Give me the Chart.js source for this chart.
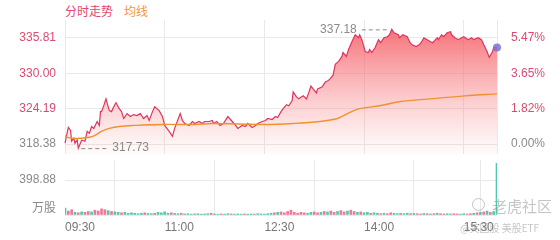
<!DOCTYPE html>
<html>
<head>
<meta charset="utf-8">
<script src="https://cdn.jsdelivr.net/npm/chart.js@4.4.1/dist/chart.umd.min.js"></script>
<style>
  body { margin: 0; background: #fff; width: 560px; height: 240px; overflow: hidden; position: relative; }
  #priceBox { position: absolute; left: 0; top: 0; width: 560px; height: 158px; }
  #volBox { position: absolute; left: 0; top: 158px; width: 560px; height: 82px; }
  .title { position: absolute; top: 2px; font: 12px "Noto Sans CJK SC", sans-serif; }
  .mark { position: absolute; color: rgba(150, 150, 150, 0.55); font-family: "Noto Sans CJK SC", sans-serif; }
</style>
</head>
<body>
<span class="title" style="left:65px;color:#e0476f">分时走势</span>
<span class="title" style="left:124px;color:#ef9a35">均线</span>
<div id="priceBox"><canvas id="priceChart"></canvas></div>
<div id="volBox"><canvas id="volChart"></canvas></div>
<span class="mark" style="left:492px;top:195px;font-size:15px">老虎社区</span>
<span class="mark" style="left:472px;top:198px;width:11px;height:11px;border:1.5px solid rgba(150,150,150,0.55);border-radius:50%"></span>
<span class="mark" style="left:460px;top:220px;font-size:10px">@美国股 美股ETF</span>
<script>
// minutes after 09:30
const priceTimes = [0,3,5,6,8,9,11,12,15,18,20,22,24,26,29,31,32,33,35,37,
  40,42,44,46,49,51,53,56,59,62,65,68,71,74,76,79,81,85,88,90,
  94,97,99,103,104,106,108,112,115,117,121,124,126,130,133,134,137,140,143,147,
  151,154,156,160,163,165,169,172,174,178,181,183,187,190,192,195,197,200,202,205,
  206,209,211,215,218,220,222,224,227,228,232,235,237,239,242,244,247,250,251,254,
  256,259,262,265,266,268,271,274,275,277,280,283,285,288,291,293,295,297,301,302,
  305,309,311,313,317,320,322,324,327,330,332,336,337,340,342,345,348,349,352,355,
  358,360,364,367,369,373,376,378,381,383,386,387,390];
const prices = [318.54,321.12,320.64,318.86,319.35,318.54,319.07,317.73,319.02,318.86,
  320.48,320.16,321.28,320.96,322.09,321.45,323.71,323.71,324.67,325.80,
  323.87,323.71,324.51,325.16,324.19,323.71,322.58,323.38,322.90,323.22,
  323.06,323.38,322.58,323.06,322.25,323.71,324.51,323.87,322.90,321.45,
  320.48,319.67,320.96,322.90,323.38,322.25,321.77,321.45,322.09,321.77,
  322.09,321.77,322.09,322.09,322.25,321.77,322.09,321.45,321.77,322.90,
  322.09,321.45,320.96,321.45,321.28,321.77,321.12,321.45,321.77,322.09,
  322.25,322.58,322.41,322.90,322.74,323.71,324.19,324.84,324.67,325.48,
  326.93,326.13,325.80,326.29,325.80,326.77,327.90,327.42,326.77,327.42,
  327.74,328.55,328.71,329.03,329.68,331.45,331.94,332.74,333.39,332.74,
  333.87,335.16,336.29,335.81,336.29,335.49,333.55,333.39,333.87,333.39,
  334.20,335.49,335.00,335.81,335.97,336.29,337.18,336.62,336.29,335.81,
  336.29,335.97,335.16,334.68,334.36,334.68,335.16,335.81,335.49,335.16,
  335.00,335.81,335.49,336.29,335.97,336.62,336.78,336.29,335.81,335.49,
  335.81,335.97,335.49,335.81,335.49,335.81,335.49,334.68,333.55,332.58,
  333.55,334.20,334.20];

const avgTimes = [0,6,15,22,27,33,40,49,63,88,117,133,181,206,230,246,255,266,284,302,330,361,390];
const avgPrices = [319.67,319.35,319.35,319.51,319.83,320.48,320.96,321.28,321.45,321.61,
  321.61,321.77,321.61,321.77,322.09,322.58,323.38,324.19,324.67,325.32,325.80,326.29,326.61];

// volume (万股), one bar every 3 minutes; u = up (red), d = down (teal)
const volumes = [80,45,60, 30,25,35,30,40,35, 55,45,70,60,50,40, 35,30,25,30,20,25,
  20,15,20,25,18,15,20, 30,25,35,20,25,18,15,20,
  12,15,10,12,15,10,12,15,20,12, 10,12,10,15,12,10,12,10,12,10,
  12,10,15,12,10,15,20,25,30,35, 25,40,55,30,20,30,25,20,30,35,
  25,30,40,35,45,30,40,50,35,45, 55,40,30,35,25,30,20,25,20,15,
  20,15,25,20,15,18,15,20,15,18, 15,12,18,15,12,15,20,15,12,15,
  12,15,12,10,15,12,15,20,25,30, 35,45,30,40, 590];
const volumeSide = "duu" + "duduud" + "uuuudu" + "ddudddd" + "dduddudd" + "dduddudddu" +
  "ddddudduddu" + "dddduddudd".slice(1) + "ddduduuuuu" + "uuudduudud" + "uuduuduudu" +
  "ddudduduud" + "dudduduudu" + "duduudduud" + "duudududud" + "dddu" + "d";

const prevClose = 318.38;
const priceTicks = [318.38, 324.19, 330.00, 335.81];
const timeLabels = ["09:30", "11:00", "12:30", "14:00", "15:30"];
const timeTicks = [0, 90, 180, 270, 360, 390];
const volumeTicks = [0, 398.88];

const gridColor = "#e9e9e9";
const redText = "#dc4a70";
const greyText = "#8a8a8a";
const numFont = { family: "'Liberation Sans', Arial, sans-serif", size: 12 };

// fixed-width side axes, no extra label padding above/below the plot
const fixWidth = (w) => (s) => {
  s.width = w;
  s.paddingTop = 0;
  s.paddingBottom = 0;
};

const xScale = (showLabels, height) => ({
  type: "linear",
  min: 0,
  max: 390,
  offset: false,
  afterBuildTicks: (s) => { s.ticks = timeTicks.map((v) => ({ value: v })); },
  afterFit: (s) => { s.height = height; s.paddingLeft = 0; s.paddingRight = 0; },
  grid: { color: gridColor, drawTicks: false },
  border: { display: false },
  ticks: {
    display: showLabels,
    autoSkip: false,
    maxRotation: 0,
    align: "start",
    padding: 5,
    color: "#777",
    font: numFont,
    callback: (v) => timeLabels[v / 90] || "",
  },
});

// max / min markers with dashed leaders
const markers = {
  id: "markers",
  afterDatasetsDraw(chart) {
    const { ctx, scales } = chart;
    let hi = 0, lo = 0;
    prices.forEach((p, i) => {
      if (p > prices[hi]) hi = i;
      if (p < prices[lo]) lo = i;
    });
    ctx.save();
    ctx.font = "12px 'Liberation Sans', Arial, sans-serif";
    ctx.fillStyle = greyText;
    ctx.strokeStyle = "#8a8a8a";
    ctx.setLineDash([4, 3]);
    ctx.lineWidth = 1;
    ctx.textBaseline = "middle";

    const hx = scales.x.getPixelForValue(priceTimes[hi]);
    const hy = scales.y.getPixelForValue(prices[hi]);
    ctx.beginPath();
    ctx.moveTo(hx - 30, hy + 0.5);
    ctx.lineTo(hx - 2, hy + 0.5);
    ctx.stroke();
    ctx.textAlign = "right";
    ctx.fillText(prices[hi].toFixed(2), hx - 35, hy);

    const lx = scales.x.getPixelForValue(priceTimes[lo]);
    const ly = scales.y.getPixelForValue(prices[lo]);
    ctx.beginPath();
    ctx.moveTo(lx + 3, ly + 0.5);
    ctx.lineTo(lx + 29, ly + 0.5);
    ctx.stroke();
    ctx.textAlign = "left";
    ctx.fillText(prices[lo].toFixed(2), lx + 34, ly);
    ctx.restore();
  },
};

const priceCtx = document.getElementById("priceChart").getContext("2d");
new Chart(priceCtx, {
  type: "line",
  data: {
    datasets: [
      {
        label: "分时走势",
        data: priceTimes.map((t, i) => ({ x: t, y: prices[i] })),
        borderColor: "#de3560",
        borderWidth: 1.2,
        tension: 0,
        fill: "start",
        backgroundColor: (c) => {
          const area = c.chart.chartArea;
          if (!area) return "rgba(240,80,90,0.3)";
          const g = c.chart.ctx.createLinearGradient(0, area.top, 0, area.bottom);
          g.addColorStop(0, "rgba(244,78,88,0.88)");
          g.addColorStop(0.45, "rgba(246,110,115,0.5)");
          g.addColorStop(1, "rgba(250,150,150,0.04)");
          return g;
        },
        pointRadius: (c) => (c.dataIndex === prices.length - 1 ? 4 : 0),
        pointBackgroundColor: "rgba(124,112,212,0.85)",
        pointBorderWidth: 0,
        clip: 6,
        order: 2,
      },
      {
        label: "均线",
        data: avgTimes.map((t, i) => ({ x: t, y: avgPrices[i] })),
        borderColor: "#f0922e",
        borderWidth: 1.4,
        tension: 0.35,
        pointRadius: 0,
        fill: false,
        order: 1,
      },
    ],
  },
  options: {
    responsive: true,
    maintainAspectRatio: false,
    animation: false,
    layout: { padding: { top: 20, bottom: 2, left: 0, right: 0 } },
    plugins: { legend: { display: false }, tooltip: { enabled: false } },
    scales: {
      x: xScale(false, 0),
      y: {
        position: "left",
        min: 316.77,
        max: 338.71,
        afterBuildTicks: (s) => { s.ticks = priceTicks.map((v) => ({ value: v })); },
        afterFit: fixWidth(65),
        grid: { color: gridColor, drawTicks: false },
        border: { display: false },
        ticks: {
          padding: 9,
          font: numFont,
          color: (c) => (c.index === 0 ? greyText : redText),
          callback: (v) => v.toFixed(2),
        },
      },
      y2: {
        position: "right",
        min: 316.77,
        max: 338.71,
        afterBuildTicks: (s) => { s.ticks = priceTicks.map((v) => ({ value: v })); },
        afterFit: fixWidth(63),
        grid: { display: false },
        border: { display: false },
        ticks: {
          padding: 6,
          font: numFont,
          color: (c) => (c.index === 0 ? greyText : redText),
          callback: (v) => ((v / prevClose - 1) * 100).toFixed(2) + "%",
        },
      },
    },
  },
  plugins: [markers],
});

// unit label for the volume panel
const unitLabel = {
  id: "unitLabel",
  afterDraw(chart) {
    const { ctx, chartArea } = chart;
    ctx.save();
    ctx.font = "12px 'Noto Sans CJK SC', sans-serif";
    ctx.fillStyle = greyText;
    ctx.textAlign = "right";
    ctx.textBaseline = "middle";
    ctx.fillText("万股", chartArea.left - 9, chartArea.bottom - 8);
    ctx.restore();
  },
};

const volCtx = document.getElementById("volChart").getContext("2d");
new Chart(volCtx, {
  type: "bar",
  data: {
    datasets: [
      {
        label: "成交量",
        data: volumes.map((v, i) => ({ x: i * 3, y: v })),
        backgroundColor: (c) =>
          volumeSide[c.dataIndex] === "u" ? "rgba(236,98,132,0.85)" : "rgba(52,190,160,0.85)",
        barThickness: 2,
      },
    ],
  },
  options: {
    responsive: true,
    maintainAspectRatio: false,
    animation: false,
    layout: { padding: { top: 2, bottom: 0, left: 0, right: 0 } },
    plugins: { legend: { display: false }, tooltip: { enabled: false } },
    scales: {
      x: xScale(true, 25),
      y: {
        position: "left",
        min: 0,
        max: 627,
        afterBuildTicks: (s) => { s.ticks = volumeTicks.map((v) => ({ value: v })); },
        afterFit: fixWidth(65),
        grid: { color: gridColor, drawTicks: false },
        border: { display: false },
        ticks: {
          padding: 9,
          font: numFont,
          color: greyText,
          callback: (v) => (v === 0 ? "" : v.toFixed(2)),
        },
      },
      y2: {
        position: "right",
        min: 0,
        max: 1,
        afterFit: fixWidth(63),
        grid: { display: false },
        border: { display: false },
        ticks: { display: false },
      },
    },
  },
  plugins: [unitLabel],
});
</script>
</body>
</html>
